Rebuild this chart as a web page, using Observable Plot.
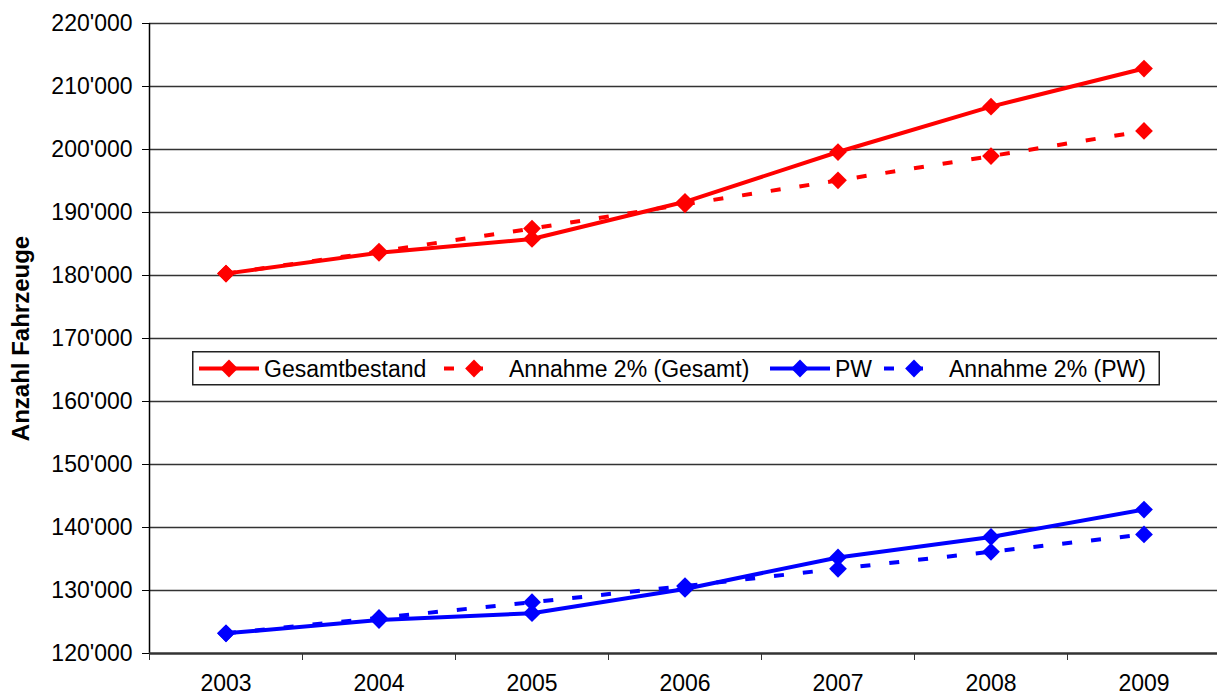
<!DOCTYPE html>
<html>
<head>
<meta charset="utf-8">
<script src="https://cdn.jsdelivr.net/npm/d3@7"></script>
<script src="https://cdn.jsdelivr.net/npm/@observablehq/plot@0.6"></script>
<style>
  html, body { margin: 0; padding: 0; background: #fff; }
  #wrap { position: relative; width: 1217px; height: 697px; overflow: hidden; }
  #wrap svg text { font-family: "Liberation Sans", Arial, sans-serif; }
  [aria-label="y-axis label"] text, [aria-label="y-axis label"] { font-weight: bold; font-size: 24px; }
  #legend { position: absolute; left: 192px; top: 351px; }
</style>
</head>
<body>
<div id="wrap"></div>
<script>
// ---- data ----
const years = [2003, 2004, 2005, 2006, 2007, 2008, 2009];
const gesamtbestand = [180300, 183600, 185800, 191700, 199600, 206800, 212850];
const annahmeGesamt = [180300, 183800, 187450, 191300, 195100, 198950, 202950];
const pw = [123200, 125300, 126400, 130250, 135250, 138500, 142850];
const annahmePW = [123200, 125650, 128150, 130700, 133450, 136150, 138900];
const seriesNames = ["Gesamtbestand", "Annahme 2% (Gesamt)", "PW", "Annahme 2% (PW)"];
const yTicks = [120000, 130000, 140000, 150000, 160000, 170000, 180000, 190000, 200000, 210000, 220000];
const yTitle = "Anzahl Fahrzeuge";

// ---- styles (not data) ----
const styles = [
  {color: "#ff0000", dash: null, len: 60},
  {color: "#ff0000", dash: "10 19", len: 40},
  {color: "#0000ff", dash: null, len: 60},
  {color: "#0000ff", dash: "10 19", len: 40}
];
const valueArrays = [gesamtbestand, annahmeGesamt, pw, annahmePW];
const data = seriesNames.flatMap((name, s) =>
  years.map((year, i) => ({series: name, year, value: valueArrays[s][i]})));
const boundaries = years.map(y => y - 0.5).concat([years[years.length - 1] + 0.5]);
const fmt = d => d3.format(",")(d).replace(/,/g, "'");

const seriesMarks = seriesNames.flatMap((name, s) => {
  const rows = data.filter(d => d.series === name);
  return [
    Plot.line(rows, {x: "year", y: "value", stroke: styles[s].color, strokeWidth: 4,
      strokeDasharray: styles[s].dash, strokeLinejoin: "miter", strokeLinecap: "butt"}),
    Plot.dot(rows, {x: "year", y: "value", symbol: "diamond2", r: 8, fill: styles[s].color, stroke: "none"})
  ];
});

const chart = Plot.plot({
  width: 1217,
  height: 697,
  marginLeft: 149,
  marginRight: 0,
  marginTop: 23,
  marginBottom: 44,
  style: {fontFamily: "Liberation Sans, Arial, sans-serif", fontSize: "23px", color: "#000", background: "#fff"},
  x: {type: "linear", domain: [boundaries[0], boundaries[boundaries.length - 1]], range: [149, 1220], label: null},
  y: {domain: [120000, 220000], label: null},
  marks: [
    Plot.ruleY(yTicks.filter(t => t > 120000), {stroke: "#333", strokeWidth: 1.5}),
    Plot.ruleX([boundaries[0]], {y1: 120000, y2: 220000, stroke: "#000", strokeWidth: 1.5}),
    Plot.axisY({ticks: yTicks, tickSize: 7, tickPadding: 10, tickFormat: fmt, stroke: "#000",
      label: yTitle, labelAnchor: "center", labelArrow: "none", labelOffset: 138}),
    Plot.axisX({ticks: boundaries, tickSize: 7, tickFormat: () => "", stroke: "#333", label: null}),
    Plot.axisX({ticks: years, tickSize: 0, tickPadding: 21, tickFormat: d => String(d), label: null}),
    Plot.ruleY([120000], {stroke: "#333", strokeWidth: 2.5}),
    ...seriesMarks
  ]
});
document.getElementById("wrap").appendChild(chart);

// ---- legend (inside plot area) ----
const legendItems = [
  {sx: 7, cx: 37, tx: 72},
  {sx: 252, cx: 282, tx: 317},
  {sx: 578, cx: 608, tx: 643},
  {sx: 692, cx: 722, tx: 757}
];
const lg = d3.select("#wrap").append("svg")
  .attr("id", "legend").attr("width", 968).attr("height", 35);
lg.append("rect").attr("x", 0.75).attr("y", 0.75).attr("width", 966.5).attr("height", 33)
  .attr("fill", "#fff").attr("stroke", "#222").attr("stroke-width", 1.5);
seriesNames.forEach((name, s) => {
  const it = legendItems[s];
  lg.append("line").attr("x1", it.sx).attr("x2", it.sx + styles[s].len).attr("y1", 17.5).attr("y2", 17.5)
    .attr("stroke", styles[s].color).attr("stroke-width", 4)
    .attr("stroke-dasharray", styles[s].dash);
  lg.append("path").attr("d", d3.symbol(d3.symbolDiamond2, 8 * 8 * Math.PI)())
    .attr("transform", `translate(${it.cx},17.5)`).attr("fill", styles[s].color);
  lg.append("text").attr("x", it.tx).attr("y", 17.5).attr("dy", "0.35em")
    .attr("font-size", 23).attr("fill", "#000").text(name);
});
</script>
</body>
</html>
